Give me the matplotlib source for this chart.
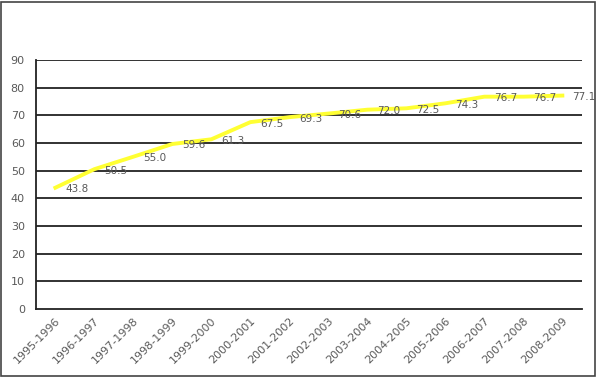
import matplotlib

matplotlib.use("Agg")
import matplotlib.pyplot as plt  # noqa: E402
from matplotlib.patches import Rectangle  # noqa: E402

years = [
    "1995-1996", "1996-1997", "1997-1998", "1998-1999", "1999-2000",
    "2000-2001", "2001-2002", "2002-2003", "2003-2004", "2004-2005",
    "2005-2006", "2006-2007", "2007-2008", "2008-2009",
]
values = [43.8, 50.5, 55.0, 59.6, 61.3, 67.5, 69.3, 70.6, 72.0, 72.5, 74.3, 76.7, 76.7, 77.1]
y_ticks = [0, 10, 20, 30, 40, 50, 60, 70, 80, 90]

grey = "#595959"

fig = plt.figure(figsize=(5.98, 3.79), dpi=100)
ax = fig.add_axes([0.060, 0.185, 0.913, 0.657])

x = list(range(len(years)))
for t in y_ticks[1:]:
    ax.axhline(t, color="#222222", linewidth=1.3, zorder=1)
ax.plot(x, values, color="#ffff33", linewidth=2.8, zorder=3)
for xi, v in zip(x, values):
    ax.annotate(f"{v:.1f}", (xi, v), xytext=(7, -1), textcoords="offset points",
                fontsize=7.5, color=grey, ha="left", va="center", zorder=4)

ax.set_xlim(-0.5, len(years) - 0.5)
ax.set_ylim(0, 90)
ax.set_yticks(y_ticks)
ax.set_xticks(x)
ax.set_xticklabels(years, rotation=45, ha="right", rotation_mode="anchor")
ax.tick_params(axis="both", length=0, labelsize=8, colors=grey, pad=8)
ax.tick_params(axis="x", pad=5)
for side in ["top", "right"]:
    ax.spines[side].set_visible(False)
ax.spines["left"].set_color("#222222")
ax.spines["left"].set_linewidth(1.3)
ax.spines["bottom"].set_color("#222222")
ax.spines["bottom"].set_linewidth(1.3)

fig.patches.append(Rectangle((0.002, 0.008), 0.993, 0.986, transform=fig.transFigure,
                             fill=False, edgecolor="#444444", linewidth=1.2))

fig.savefig("out.png", dpi=100)
